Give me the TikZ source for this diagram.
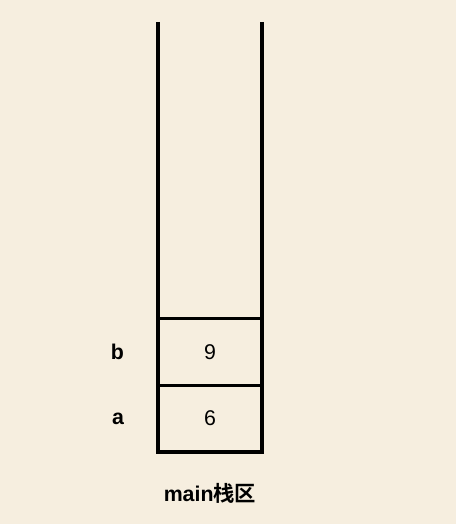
\documentclass[tikz,border=0pt]{standalone}
\usepackage{fontspec}
\setmainfont{Liberation Sans}
\newfontfamily\cjkfont{Noto Sans CJK SC}[BoldFont={Noto Sans CJK SC Bold}]
\usetikzlibrary{positioning}
\definecolor{paper}{HTML}{F6EEDF}
\tikzset{
	wall/.style={line width=2.5pt},
	cell/.style={draw, line width=2.5pt, outer sep=0pt, minimum width=78pt, minimum height=50pt, inner sep=0pt, font=\fontsize{16}{16}\selectfont},
	varname/.style={font=\bfseries\fontsize{16}{16}\selectfont},
}

\begin{document}
\begin{tikzpicture}[x=0.75pt, y=-0.75pt]
	% Background
	\fill[paper] (0,0) rectangle (456,524);
	\useasboundingbox (0,0) rectangle (456,524);

	% Stack cells
	\node[cell] (acell) at (210,418.5) {6};
	\node[cell, above=0pt of acell] (bcell) {9};

	% Stack walls
	\coordinate (lefttop) at (158,22);
	\coordinate (righttop) at (262,22);
	\draw[wall] (lefttop) -- (bcell.north west);
	\draw[wall] (righttop) -- (bcell.north east);

	% Variable names
	\node[varname, left=22pt of bcell] (bname) {b};
	\node[varname, left=22pt of acell] (aname) {a};

	% Caption
	\node[varname] (caption) at (210,493) {main{\cjkfont 栈区}};
\end{tikzpicture}
\end{document}
